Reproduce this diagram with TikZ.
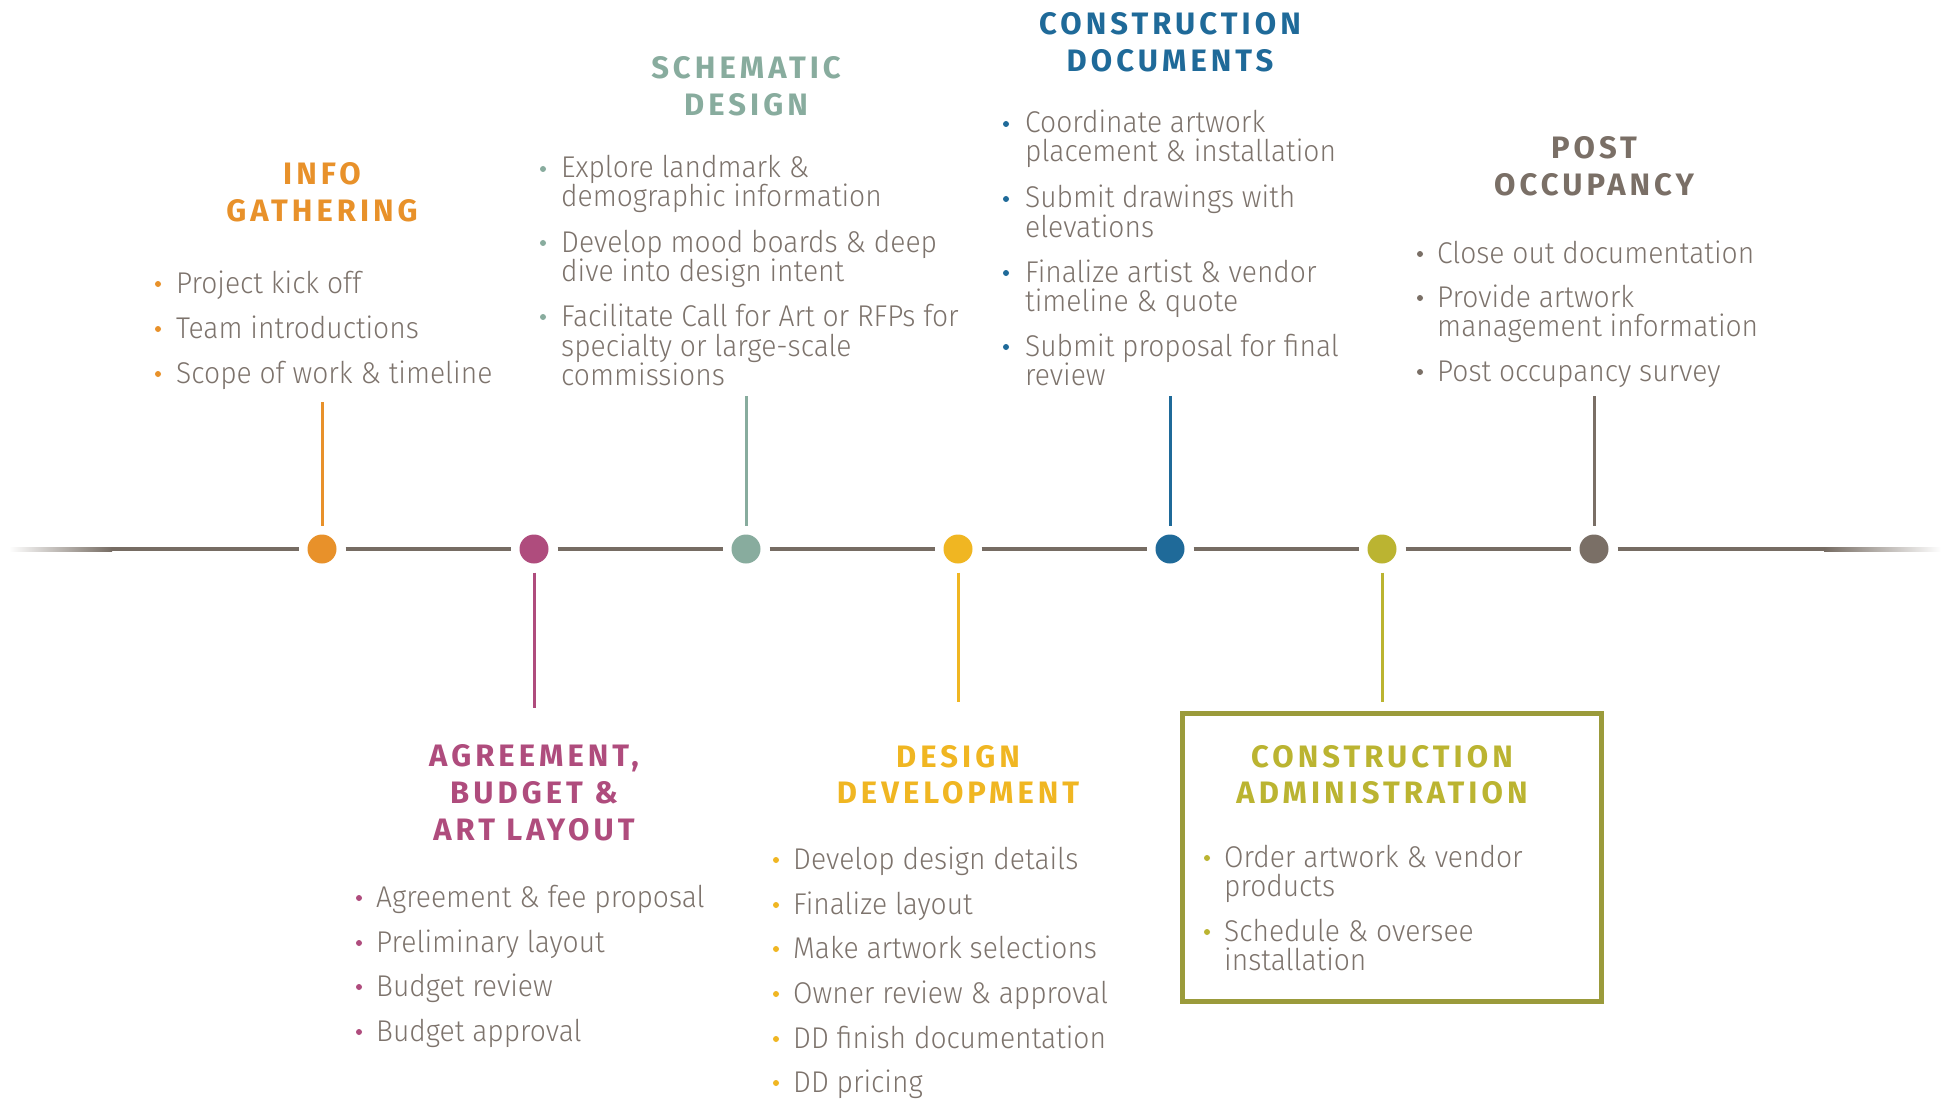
\documentclass[tikz,border=0pt]{standalone}
\usepackage{fontspec}
\setmainfont{Fira Sans}[UprightFont=* Light, FakeStretch=0.94]
\newfontfamily\titlefont{Fira Sans}[UprightFont=* Bold, LetterSpace=13]
\definecolor{cInfo}{HTML}{E8912A}
\definecolor{cAgr}{HTML}{AF4C7D}
\definecolor{cSch}{HTML}{88AC9E}
\definecolor{cDD}{HTML}{F0B622}
\definecolor{cCD}{HTML}{1F6A99}
\definecolor{cCA}{HTML}{BBB431}
\definecolor{cBox}{HTML}{9B9B3B}
\definecolor{cPost}{HTML}{7A6F66}
\definecolor{cText}{HTML}{7D736C}
\definecolor{cLine}{HTML}{766C63}
\tikzset{
  body/.style={anchor=base west, inner sep=0pt, text=cText, font=\fontsize{30}{36}\selectfont},
  ttl/.style={anchor=base, inner sep=0pt, font=\titlefont\fontsize{31}{37}\selectfont},
  dot/.style={circle, inner sep=0pt, minimum size=29pt, outer sep=9pt},
  tl/.style={draw=cLine, line width=4pt},
  stem/.style={line width=3pt},
}
\begin{document}
\begin{tikzpicture}[x=1pt,y=-1pt]
\useasboundingbox[fill=white] (0,0) rectangle (1941,1102);
% timeline dots
\node[dot, fill=cInfo] (d1) at (322,549) {};
\node[dot, fill=cAgr]  (d2) at (534,549) {};
\node[dot, fill=cSch]  (d3) at (746,549) {};
\node[dot, fill=cDD]   (d4) at (958,549) {};
\node[dot, fill=cCD]   (d5) at (1170,549) {};
\node[dot, fill=cCA]   (d6) at (1382,549) {};
\node[dot, fill=cPost] (d7) at (1594,549) {};
\coordinate (L1) at (9,549);
\coordinate (L2) at (112,549);
\coordinate (R1) at (1824,549);
\coordinate (R2) at (1941,549);
\shade[left color=white, right color=cLine] (9,547) rectangle (112,551);
\shade[left color=cLine, right color=white] (1824,547) rectangle (1941,551);
\draw[tl] (L2) -- (d1);
\draw[tl] (d1) -- (d2);
\draw[tl] (d2) -- (d3);
\draw[tl] (d3) -- (d4);
\draw[tl] (d4) -- (d5);
\draw[tl] (d5) -- (d6);
\draw[tl] (d6) -- (d7);
\draw[tl] (d7) -- (R1);
% stems
\coordinate (s1) at (322,402);
\coordinate (s2) at (534,708);
\coordinate (s3) at (746,396);
\coordinate (s4) at (958,702);
\coordinate (s5) at (1170,396);
\coordinate (s6) at (1382,702);
\coordinate (s7) at (1594,396);
\draw[stem, cInfo] (d1) -- (s1);
\draw[stem, cAgr] (d2) -- (s2);
\draw[stem, cSch] (d3) -- (s3);
\draw[stem, cDD] (d4) -- (s4);
\draw[stem, cCD] (d5) -- (s5);
\draw[stem, cCA] (d6) -- (s6);
\draw[stem, cPost] (d7) -- (s7);
% box
\node[draw=cBox, line width=5pt, minimum width=419pt, minimum height=288pt, inner sep=0pt] (box) at (1391.5,857) {};
% titles
\node[ttl, text=cInfo] (t1a) at (322,185) {INFO};
\node[ttl, text=cInfo] (t1b) at (322,222) {GATHERING};
\node[ttl, text=cSch] (t3a) at (746,79) {SCHEMATIC};
\node[ttl, text=cSch] (t3b) at (746,116) {DESIGN};
\node[ttl, text=cCD] (t5a) at (1170,35) {CONSTRUCTION};
\node[ttl, text=cCD] (t5b) at (1170,72) {DOCUMENTS};
\node[ttl, text=cPost] (t7a) at (1594,159) {POST};
\node[ttl, text=cPost] (t7b) at (1594,196) {OCCUPANCY};
\node[ttl, text=cAgr] (t2a) at (534,766) {AGREEMENT,};
\node[ttl, text=cAgr] (t2b) at (534,803) {BUDGET \&};
\node[ttl, text=cAgr] (t2c) at (534,840) {ART LAYOUT};
\node[ttl, text=cDD] (t4a) at (958,767) {DESIGN};
\node[ttl, text=cDD] (t4b) at (958,803) {DEVELOPMENT};
\node[ttl, text=cCA] (t6a) at (1382,767) {CONSTRUCTION};
\node[ttl, text=cCA] (t6b) at (1382,803) {ADMINISTRATION};
% lists
\foreach \i/\yy/\t in {1/293/{Project kick off}, 2/338/{Team introductions}, 3/383/{Scope of work \& timeline}}
  \node[body] (a\i) at (176,\yy) {\t};
\foreach \yy in {293,338,383} \fill[cInfo] (158,\yy-9) circle (3pt);

\foreach \i/\yy/\t in {1/178/{Explore landmark \&}, 2/207/{demographic information}, 3/252/{Develop mood boards \& deep}, 4/281/{dive into design intent}, 5/326/{Facilitate Call for Art or RFPs for}, 6/356/{specialty or large-scale}, 7/385/{commissions}}
  \node[body] (c\i) at (561,\yy) {\t};
\foreach \yy in {178,252,326} \fill[cSch] (543,\yy-9) circle (3pt);

\foreach \i/\yy/\t in {1/133/{Coordinate artwork}, 2/162/{placement \& installation}, 3/208/{Submit drawings with}, 4/237/{elevations}, 5/282/{Finalize artist \& vendor}, 6/311/{timeline \& quote}, 7/356/{Submit proposal for final}, 8/385/{review}}
  \node[body] (e\i) at (1025,\yy) {\t};
\foreach \yy in {133,208,282,356} \fill[cCD] (1006,\yy-9) circle (3pt);

\foreach \i/\yy/\t in {1/263/{Close out documentation}, 2/307/{Provide artwork}, 3/336/{management information}, 4/381/{Post occupancy survey}}
  \node[body] (g\i) at (1437,\yy) {\t};
\foreach \yy in {263,307,381} \fill[cPost] (1420,\yy-9) circle (3pt);

\foreach \i/\yy/\t in {1/907/{Agreement \& fee proposal}, 2/952/{Preliminary layout}, 3/996/{Budget review}, 4/1041/{Budget approval}}
  \node[body] (b\i) at (376,\yy) {\t};
\foreach \yy in {907,952,996,1041} \fill[cAgr] (359,\yy-9) circle (3pt);

\foreach \i/\yy/\t in {1/869/{Develop design details}, 2/914/{Finalize layout}, 3/958/{Make artwork selections}, 4/1003/{Owner review \& approval}, 5/1048/{DD finish documentation}, 6/1092/{DD pricing}}
  \node[body] (f\i) at (793,\yy) {\t};
\foreach \yy in {869,914,958,1003,1048,1092} \fill[cDD] (776,\yy-9) circle (3pt);

\foreach \i/\yy/\t in {1/867/{Order artwork \& vendor}, 2/896/{products}, 3/941/{Schedule \& oversee}, 4/970/{installation}}
  \node[body] (h\i) at (1224,\yy) {\t};
\foreach \yy in {867,941} \fill[cCA] (1207,\yy-9) circle (3pt);
\end{tikzpicture}
\end{document}
